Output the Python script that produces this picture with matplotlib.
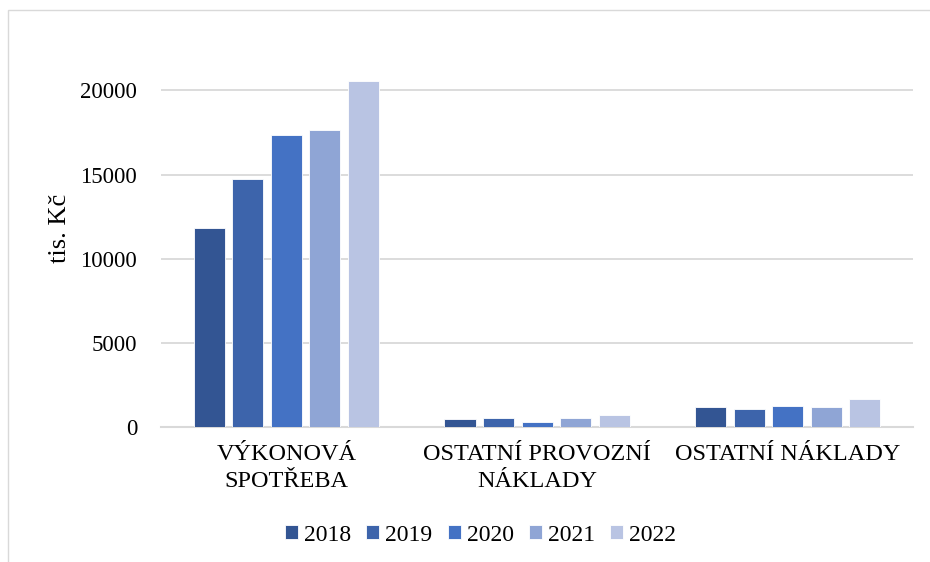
import numpy as np
import matplotlib.pyplot as plt
from matplotlib.patches import Rectangle

categories = ["VÝKONOVÁ\nSPOTŘEBA", "OSTATNÍ PROVOZNÍ\nNÁKLADY", "OSTATNÍ NÁKLADY"]
years = ["2018", "2019", "2020", "2021", "2022"]
values = {
    "2018": [11800, 470, 1190],
    "2019": [14750, 540, 1090],
    "2020": [17330, 290, 1270],
    "2021": [17650, 540, 1190],
    "2022": [20560, 700, 1650],
}
colors = ["#335593", "#3D64AB", "#4472C4", "#8FA5D5", "#B9C4E3"]
yticks = [0, 5000, 10000, 15000, 20000]

plt.rcParams["font.family"] = ["Liberation Serif", "DejaVu Serif"]

fig = plt.figure(figsize=(9.3, 5.62), dpi=100)
fig.patches.append(Rectangle((8 / 930, -0.1), 1.2, 1 - 10 / 562 + 0.1,
                             transform=fig.transFigure, fill=False,
                             edgecolor="#D9D9D9", lw=1.0))
ax = fig.add_axes([0.173, 0.240, 0.809, 0.707])

x = np.arange(len(categories))
slot = 0.1536
width = 0.124
for i, yr in enumerate(years):
    ax.bar(x + (i - 2) * slot, values[yr], width, color=colors[i],
           edgecolor="white", linewidth=0.6, label=yr, zorder=3)

ax.set_xlim(-0.5, 2.5)
ax.set_ylim(0, 23600)
ax.set_yticks(yticks)
ax.set_yticklabels([str(t) for t in yticks], fontsize=16.5)
ax.set_xticks(x)
ax.set_xticklabels(categories, fontsize=17.5, linespacing=1.4)
ax.tick_params(axis="both", length=0)
ax.tick_params(axis="y", pad=17)
ax.tick_params(axis="x", pad=12)
ax.grid(axis="y", color="#D9D9D9", lw=1.3, zorder=0)
for s in ["top", "right", "left"]:
    ax.spines[s].set_visible(False)
ax.spines["bottom"].set_color("#D9D9D9")
ax.spines["bottom"].set_linewidth(1.5)
ax.set_ylabel("tis. Kč", fontsize=19, labelpad=7)

ax.legend(loc="center", bbox_to_anchor=(0.425, -0.272), ncol=5, frameon=False,
          fontsize=17, handlelength=0.55, handleheight=0.55,
          handletextpad=0.25, columnspacing=0.65)

fig.savefig("out.png", dpi=100)
